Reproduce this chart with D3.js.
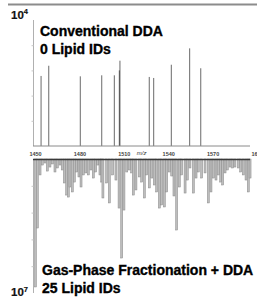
<!DOCTYPE html>
<html><head><meta charset="utf-8">
<script src="https://cdn.jsdelivr.net/npm/d3@7"></script>
<style>
html,body{margin:0;padding:0;background:#fff;}
svg{display:block;font-family:"Liberation Sans",Arial,sans-serif;}
</style></head>
<body><svg id="c" width="257" height="297"></svg>
<script>
// m/z tick labels
const xTicks = [1450, 1480, 1510, 1540, 1570, 1600];
// Conventional DDA peaks (m/z, intensity counts, max 1e4)
const ddaMz  = [1454.1, 1459.3, 1480.6, 1495.1, 1503.6, 1507.0, 1507.4, 1527.2, 1530.2, 1542.1, 1554.5, 1562.0];
const ddaInt = [5560, 6370, 5530, 5610, 5610, 6000, 6770, 5480, 5400, 6450, 7750, 6170];
// Gas-phase fractionation + DDA peaks (m/z, intensity in millions, max 10 = 1e7)
const gpfMz = [1450.3,1451.6,1453.4,1454.9,1456.8,1458.3,1460.1,1461.7,1463.5,1465.1,1466.9,1468.4,1469.8,1471.4,1472.5,1473.6,1475.2,1476.6,1478.2,1479.7,1481.1,1482.6,1484.3,1486.0,1487.8,1489.4,1491.0,1492.4,1493.9,1495.1,1495.9,1498.4,1500.2,1502.5,1504.7,1506.8,1508.6,1510.1,1512.0,1513.7,1515.3,1516.4,1518.2,1520.5,1522.1,1523.9,1525.5,1527.2,1528.9,1530.6,1532.2,1534.0,1535.6,1537.4,1539.0,1540.7,1542.4,1543.9,1545.7,1547.5,1549.1,1551.4,1552.9,1554.7,1557.0,1558.8,1560.3,1562.6,1564.9,1567.1,1568.9,1570.5,1572.3,1573.9,1575.5,1576.8,1578.4,1579.9,1581.8,1583.6,1585.1,1587.4,1589.0,1590.7,1592.6,1594.1,1595.3];
const gpfInt = [9.55,5.15,1.19,0.45,0.30,0.90,0.60,0.37,0.97,0.67,0.45,0.82,1.79,2.69,2.84,2.09,2.46,1.72,0.97,1.34,2.09,1.19,1.04,1.19,0.82,1.42,0.97,0.45,1.19,1.72,2.91,1.79,3.28,1.19,1.57,3.66,7.39,3.81,0.97,0.82,1.04,2.69,2.31,1.34,1.72,2.91,1.19,2.16,1.42,1.94,2.46,3.66,3.43,3.58,2.46,0.97,1.27,2.76,5.30,2.09,1.19,2.54,1.57,0.67,2.54,1.42,0.97,1.42,1.04,3.28,2.46,1.42,1.57,1.19,1.72,1.94,1.04,0.82,0.60,0.67,0.60,0.67,0.97,1.19,1.57,2.46,1.42];
const topLabel = ["Conventional DDA", "0 Lipid IDs"];
const botLabel = ["Gas-Phase Fractionation + DDA", "25 Lipid IDs"];

const svg = d3.select("#c");
const x = d3.scaleLinear().domain([1450, 1600]).range([35, 257]);
const yTop = d3.scaleLinear().domain([0, 10000]).range([146, 20]);
const yBot = d3.scaleLinear().domain([0, 10]).range([159, 293]);

// top rule
svg.append("line").attr("x1", 8).attr("x2", 257).attr("y1", 4.5).attr("y2", 4.5)
  .attr("stroke", "#8c8c8c").attr("stroke-width", 2);

// top axis (left)
const gTopAxis = svg.append("g").attr("transform", "translate(33.5,0)")
  .call(d3.axisLeft(yTop).tickValues([2000,4000,6000,8000]).tickSize(2).tickFormat(""));
gTopAxis.select(".domain").attr("stroke", "#b0b0b0").attr("d", `M0,${yTop(10000)}V${yTop(0)}`);
gTopAxis.selectAll(".tick line").attr("stroke", "#c8c8c8");

// bottom axis (left)
const gBotAxis = svg.append("g").attr("transform", "translate(33.5,0)")
  .call(d3.axisLeft(yBot).tickValues([2,4,6,8]).tickSize(2).tickFormat(""));
gBotAxis.select(".domain").attr("stroke", "#b0b0b0").attr("d", `M0,${yBot(0)}V${yBot(10)}`);
gBotAxis.selectAll(".tick line").attr("stroke", "#c8c8c8");

// top peaks
svg.append("g").selectAll("line").data(ddaMz).join("line")
  .attr("x1", d => x(d)).attr("x2", d => x(d))
  .attr("y1", yTop(0)).attr("y2", (d, i) => yTop(ddaInt[i]))
  .attr("stroke", (d, i) => i === 5 ? "#333" : "#6a6a6a").attr("stroke-width", 1);

// top baseline
svg.append("line").attr("x1", 33).attr("x2", 250).attr("y1", 146).attr("y2", 146)
  .attr("stroke", "#8a8a8a").attr("stroke-width", 1);

// x axis labels
const gx = svg.append("g").attr("transform", "translate(0,149.5)")
  .call(d3.axisBottom(x).tickValues(xTicks).tickSize(0).tickFormat(d3.format("d")));
gx.select(".domain").remove();
gx.selectAll("text").attr("font-size", 5.5).attr("font-weight", "bold").attr("fill", "#444")
  .attr("font-family", "'Liberation Sans',Arial,sans-serif").attr("dy", "0.55em");
svg.append("text").attr("x", x(1522)).attr("y", 154.5).attr("font-size", 6)
  .attr("font-style", "italic").attr("fill", "#333").attr("text-anchor", "middle").text("m/z");

// bottom bars
svg.append("g").selectAll("rect").data(gpfMz).join("rect")
  .attr("x", d => x(d) - 1).attr("width", 2)
  .attr("y", yBot(0)).attr("height", (d, i) => yBot(gpfInt[i]) - yBot(0))
  .attr("fill", "#bdbdbd").attr("stroke", "#8a8a8a").attr("stroke-width", 0.5);

// bottom baseline
svg.append("line").attr("x1", 33).attr("x2", 250).attr("y1", 159.5).attr("y2", 159.5)
  .attr("stroke", "#3a3a3a").attr("stroke-width", 1.5);

// exponent labels
function powLabel(xp, yp, exp) {
  const t = svg.append("text").attr("x", xp).attr("y", yp).attr("font-size", 11.5)
    .attr("font-weight", "bold").attr("fill", "#111").attr("stroke", "#111").attr("stroke-width", 0.2);
  t.append("tspan").text("10");
  t.append("tspan").attr("font-size", 7.5).attr("dy", -4.5).text(exp);
}
powLabel(11, 18.5, "4");
powLabel(11, 296, "7");

// panel titles
svg.append("g").selectAll("text").data(topLabel).join("text")
  .attr("x", 40).attr("y", (d, i) => 36 + i * 18)
  .attr("font-size", 14).attr("font-weight", "bold").attr("fill", "#000")
  .attr("stroke", "#000").attr("stroke-width", 0.35).text(d => d);
svg.append("g").selectAll("text").data(botLabel).join("text")
  .attr("x", 42).attr("y", (d, i) => 275 + i * 18)
  .attr("font-size", 14).attr("font-weight", "bold").attr("fill", "#000")
  .attr("stroke", "#000").attr("stroke-width", 0.35).text(d => d);
</script></body></html>
